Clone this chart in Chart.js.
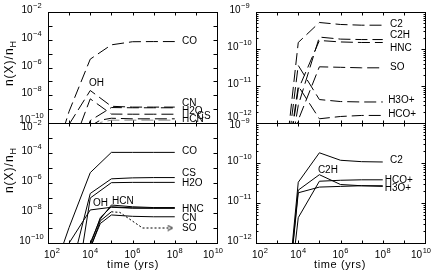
<!DOCTYPE html>
<html>
<head>
<meta charset="utf-8">
<script src="https://cdn.jsdelivr.net/npm/chart.js@4"></script>
<style>
body { margin: 0; background: #fff; width: 436px; height: 275px; position: relative; overflow: hidden;
       font-family: "Liberation Sans", Arial, sans-serif; color: #000; }
canvas { position: absolute; }
.ytitle { position: absolute; transform: translate(-50%, -50%) rotate(-90deg); font-size: 12px;
          letter-spacing: 1px; white-space: nowrap; }
.ytitle sub { font-size: 9px; }
.xtitle { position: absolute; transform: translate(-50%, -50%); font-size: 11px; letter-spacing: 0.6px; white-space: nowrap; }
</style>
</head>
<body>
<canvas id="tl" width="224" height="132" style="left:0;top:0"></canvas>
<canvas id="tr" width="218" height="132" style="left:218px;top:0"></canvas>
<canvas id="bl" width="224" height="161" style="left:0;top:114px"></canvas>
<canvas id="br" width="218" height="161" style="left:218px;top:114px"></canvas>
<div class="ytitle" style="left:10px;top:63px">n(X)/n<sub>H</sub></div>
<div class="ytitle" style="left:10px;top:170px">n(X)/n<sub>H</sub></div>
<div class="xtitle" style="left:133px;top:264px">time (yrs)</div>
<div class="xtitle" style="left:340px;top:264px">time (yrs)</div>
<script>
// model output times (yrs)
var times = [1e2, 1e3, 1e4, 3e4, 1e5, 1e6, 1e7, 1e8];

// top left (dashed)
var tlCO  = [1e-14, 7e-10, 4e-6, null, 4.3e-5, 7.2e-5, 7.4e-5, 7.4e-5];
var tlOH  = [null, 8e-11, 2.2e-8, null, 1.6e-9, 1.4e-9, 1.4e-9, 1.4e-9];
var tlH2O = [null, 5e-13, 5.5e-9, null, 4.4e-10, 4.3e-10, 4.3e-10, 4.3e-10];
var tlCN  = [null, 1e-14, 1.5e-10, null, 1.3e-9, 1.25e-9, 1.25e-9, 1.25e-9];
var tlHCN = [null, 1e-15, 6e-11, 1.6e-10, 2.2e-10, 2e-10, 2e-10, 2e-10];
var tlCS  = [null, 1e-15, 2e-11, 1.1e-10, 1.6e-10, 1.6e-10, 1.6e-10, 1.6e-10];

// top right (dashed)
var trC2   = [null, 1e-15, 1.5e-10, null, 5.2e-10, 4.6e-10, 4.4e-10, 4.4e-10];
var trC2H  = [null, 1e-15, 3e-12, null, 2.1e-10, 1.85e-10, 1.8e-10, 1.8e-10];
var trHNC  = [null, 1e-15, 8e-12, null, 1.7e-10, 1.55e-10, 1.5e-10, 1.5e-10];
var trSO   = [null, 1e-15, 1.2e-12, null, 3.3e-11, 3.2e-11, 3.1e-11, 3.1e-11];
var trH3O  = [null, 1e-15, 3.6e-11, null, 4.3e-12, 3.8e-12, 3.7e-12, 3.7e-12];
var trHCO  = [null, 1e-15, 1e-11, null, 1.3e-12, 1.5e-12, 1.6e-12, 1.6e-12];

// bottom left (solid)
var blCO  = [1e-13, 1.1e-9, 4.9e-6, null, 1.1e-4, 1.1e-4, 1.1e-4, 1.1e-4];
var blOH  = [1e-14, 1e-10, 1.6e-8, null, 2.4e-8, 2.1e-8, 2.1e-8, 2.1e-8];
var blCS  = [null, 5e-13, 2e-7, null, 1.9e-6, 2.2e-6, 2.3e-6, 2.3e-6];
var blH2O = [null, 1e-16, 1e-7, null, 1.05e-6, 1.1e-6, 1.1e-6, 1.1e-6];
var blHCN = [null, 1e-16, 1e-10, 4e-9, 3.4e-8, 2.6e-8, 2.3e-8, 2.3e-8];
var blHNC = [null, 1e-16, 7e-11, 5e-9, 2.6e-8, 2.2e-8, 2.1e-8, 2.1e-8];
var blCN  = [null, 1e-16, 5e-11, 2e-9, 7.4e-9, 6e-9, 5.6e-9, 5.6e-9];
var blSO  = [null, 1e-16, 4e-11, 3e-9, 1.2e-8, null, null, null];
var soTimes = [1e5, 2.5e5, 3e6, 6e7];
var soTail  = [1.2e-8, 1.1e-8, 1e-9, 1e-9];

// bottom right (solid)
var brC2  = [null, 1e-16, 3.3e-11, null, 1.8e-10, 1.17e-10, 1.08e-10, 1.06e-10];
var brC2H = [null, 1e-16, 2.1e-11, null, 5.1e-11, 2.9e-11, 2.7e-11, 2.6e-11];
var brHCO = [null, 1e-16, 4.3e-12, null, 3.5e-11, 3.7e-11, 3.8e-11, 3.8e-11];
var brH3O = [null, 1e-16, 1.8e-11, null, 2.5e-11, 2.6e-11, 2.7e-11, 2.7e-11];

// species names placed in the plots: [text, time, abundance]
var tlNames = [['CO', 2.2e8, 8.1e-5], ['OH', 8.7e3, 7e-8], ['CN', 2.2e8, 2.8e-9], ['H2O', 2.2e8, 7.3e-10],
               ['HCN', 2.2e8, 1.9e-10], ['CS', 1.1e9, 3.2e-10]];
var trNames = [['C2', 2.2e8, 4.8e-10], ['C2H', 2.2e8, 2.4e-10], ['HNC', 2.2e8, 1.08e-10], ['SO', 2.2e8, 3.2e-11],
               ['H3O+', 1.8e8, 4.2e-12], ['HCO+', 1.8e8, 1.7e-12]];
var blNames = [['CO', 2.2e8, 1.4e-4], ['CS', 2.2e8, 4.7e-6], ['H2O', 2.2e8, 1e-6], ['OH', 1.35e4, 4.2e-8],
               ['HCN', 1.07e5, 6.3e-8], ['HNC', 2.2e8, 1.85e-8], ['CN', 2.2e8, 4.7e-9], ['SO', 2.2e8, 9e-10]];
var brNames = [['C2', 2.2e8, 1.19e-10], ['C2H', 8.5e4, 6.7e-11], ['HCO+', 1.25e8, 3.76e-11], ['H3O+', 1.25e8, 2.3e-11]];

var FONT = '"Liberation Sans", Arial, sans-serif';
var DASH = [12, 5];

function pts(ts, vs) {
	var out = [];
	for (var i = 0; i < ts.length; i++) {
		if (vs[i] != null) out.push({x: ts[i], y: vs[i]});
	}
	return out;
}

function line(vals, extra, ts) {
	return Object.assign({
		data: pts(ts || times, vals),
		borderColor: '#000',
		borderWidth: 1,
		pointRadius: 0,
		fill: false,
		tension: 0
	}, extra || {});
}

// open ">" arrow head for the end of the dotted SO line
var arrow = document.createElement('canvas');
arrow.width = 7; arrow.height = 7;
(function () {
	var c = arrow.getContext('2d');
	c.strokeStyle = '#000'; c.lineWidth = 1;
	c.beginPath(); c.moveTo(1, 1); c.lineTo(6, 3.5); c.lineTo(1, 6); c.stroke();
})();

function drawPow(ctx, exp, x, y) {
	var base = '10', sup = exp < 0 ? '\u2212' + (-exp) : String(exp);
	ctx.font = '10px ' + FONT;
	var wb = ctx.measureText(base).width;
	ctx.font = '7.5px ' + FONT;
	var ws = ctx.measureText(sup).width;
	var x0 = x - (wb + ws + 0.5) / 2;
	ctx.textAlign = 'left';
	ctx.textBaseline = 'alphabetic';
	ctx.font = '10px ' + FONT;
	ctx.fillText(base, x0, y);
	ctx.font = '7.5px ' + FONT;
	ctx.fillText(sup, x0 + wb + 0.5, y - 5);
}

var frame = {
	id: 'frame',
	afterDatasetsDraw: function (chart, args, o) {
		var ctx = chart.ctx, a = chart.chartArea, xs = chart.scales.x, ys = chart.scales.y;
		var L = Math.round(a.left) + 0.5, R = Math.round(a.right) + 0.5;
		var T = Math.round(a.top) + 0.5, B = Math.round(a.bottom) + 0.5;
		ctx.save();
		ctx.strokeStyle = '#000';
		ctx.fillStyle = '#000';
		ctx.lineWidth = 1;
		ctx.strokeRect(L, T, R - L, B - T);
		ctx.beginPath();
		for (var k = 3; k < 10; k++) {
			var px = Math.round(xs.getPixelForValue(Math.pow(10, k))) + 0.5;
			ctx.moveTo(px, B); ctx.lineTo(px, B - 3);
			ctx.moveTo(px, T); ctx.lineTo(px, T + 3);
		}
		for (var e = o.yMin; e <= o.yMax; e++) {
			var py = Math.round(ys.getPixelForValue(Math.pow(10, e))) + 0.5;
			if (e > o.yMin && e < o.yMax) {
				ctx.moveTo(L, py); ctx.lineTo(L + 4, py);
				ctx.moveTo(R, py); ctx.lineTo(R - 4, py);
			}
			if (o.minor && e < o.yMax) {
				for (var m = 2; m < 10; m++) {
					var pm = Math.round(ys.getPixelForValue(m * Math.pow(10, e))) + 0.5;
					ctx.moveTo(L, pm); ctx.lineTo(L + 2, pm);
					ctx.moveTo(R, pm); ctx.lineTo(R - 2, pm);
				}
			}
		}
		ctx.stroke();

		// y tick labels
		o.yLabels.forEach(function (e) {
			var py = ys.getPixelForValue(Math.pow(10, e)) + 1;
			if (e === o.yMin && o.bottomShift != null) py += o.bottomShift - 1;
			if (e === o.yMax && o.topShift != null) py += o.topShift - 1;
			drawPow(ctx, e, L - 17, py);
		});
		// x tick labels
		if (o.xLabels) {
			[2, 4, 6, 8, 10].forEach(function (k) {
				var px = xs.getPixelForValue(Math.pow(10, k));
				if (k === 2) px += 4;
				if (k === 10) px -= 4;
				drawPow(ctx, k, px, a.bottom + 15);
			});
		}
		// species names
		ctx.font = '10px ' + FONT;
		ctx.textAlign = 'left';
		ctx.textBaseline = 'middle';
		o.names.forEach(function (n) {
			ctx.fillText(n[0], xs.getPixelForValue(n[1]), ys.getPixelForValue(n[2]));
		});
		ctx.restore();
	}
};

function makePanel(id, datasets, o, pad) {
	new Chart(document.getElementById(id), {
		type: 'line',
		data: {datasets: datasets},
		options: {
			responsive: false,
			animation: false,
			devicePixelRatio: 1,
			layout: {padding: pad},
			scales: {
				x: {type: 'logarithmic', min: 1e2, max: 1e10, display: false},
				y: {type: 'logarithmic', min: Math.pow(10, o.yMin), max: Math.pow(10, o.yMax), display: false}
			},
			plugins: {legend: {display: false}, tooltip: {enabled: false}, frame: o}
		},
		plugins: [frame]
	});
}

makePanel('tl', [
	line(tlCO, {borderDash: DASH}),
	line(tlOH, {borderDash: DASH}),
	line(tlH2O, {borderDash: DASH}),
	line(tlCN, {borderDash: DASH}),
	line(tlHCN, {borderDash: DASH}),
	line(tlCS, {borderDash: DASH, borderColor: '#888'})
], {yMin: -10, yMax: -2, yLabels: [-2, -4, -6, -8, -10], minor: false, xLabels: false, bottomShift: 0, names: tlNames},
   {left: 48, top: 12, right: 7, bottom: 9});

makePanel('tr', [
	line(trC2, {borderDash: DASH}),
	line(trC2H, {borderDash: DASH}),
	line(trHNC, {borderDash: DASH}),
	line(trSO, {borderDash: DASH}),
	line(trH3O, {borderDash: DASH}),
	line(trHCO, {borderDash: DASH})
], {yMin: -12, yMax: -9, yLabels: [-9, -10, -11, -12], minor: true, xLabels: false, bottomShift: -3, names: trNames},
   {left: 38, top: 12, right: 11, bottom: 9});

makePanel('bl', [
	line(blCO), line(blOH), line(blCS), line(blH2O),
	line(blHCN), line(blHNC), line(blCN), line(blSO),
	line(soTail, {
		borderDash: [2, 2],
		pointRadius: function (c) { return c.dataIndex === soTail.length - 1 ? 3 : 0; },
		pointStyle: function (c) { return c.dataIndex === soTail.length - 1 ? arrow : 'circle'; }
	}, soTimes)
], {yMin: -10, yMax: -2, yLabels: [-2, -4, -6, -8, -10], minor: false, xLabels: true, topShift: 7, names: blNames},
   {left: 48, top: 9, right: 7, bottom: 32});

makePanel('br', [
	line(brC2), line(brC2H), line(brHCO), line(brH3O)
], {yMin: -12, yMax: -9, yLabels: [-9, -10, -11, -12], minor: true, xLabels: true, topShift: 5, names: brNames},
   {left: 38, top: 9, right: 11, bottom: 32});
</script>
</body>
</html>
